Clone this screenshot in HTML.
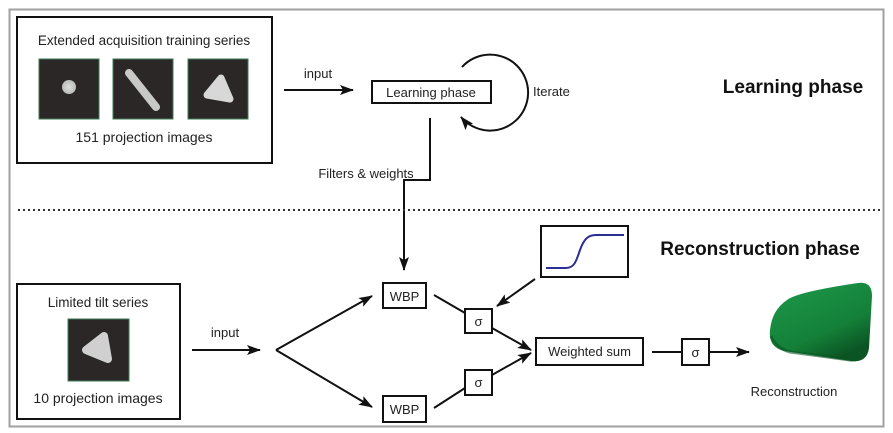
<!DOCTYPE html>
<html><head><meta charset="utf-8"><style>
html,body{margin:0;padding:0;background:#fff;}
svg{display:block;font-family:"Liberation Sans",Arial,sans-serif;}
</style></head><body>
<svg width="893" height="433" viewBox="0 0 893 433" xmlns="http://www.w3.org/2000/svg">
<defs>
<marker id="ah" markerWidth="14" markerHeight="10" refX="13" refY="5" orient="auto" markerUnits="userSpaceOnUse">
<path d="M0,0 L14,5 L0,10 L3,5 Z" fill="#111"/></marker>
<radialGradient id="dot" cx="50%" cy="50%" r="50%"><stop offset="0" stop-color="#ddd"/><stop offset="1" stop-color="#bbb"/></radialGradient>
<linearGradient id="grn" x1="0" y1="0" x2="0.6" y2="1"><stop offset="0" stop-color="#1e9a4a"/><stop offset="0.7" stop-color="#148039"/><stop offset="1" stop-color="#0b5524"/></linearGradient>
</defs>
<rect x="9.5" y="9.5" width="874" height="417" fill="#fff" stroke="#a0a0a0" stroke-width="2"/>
<rect x="17" y="17" width="255" height="146" fill="none" stroke="#111" stroke-width="2"/>
<text x="144" y="45" font-size="13.5" text-anchor="middle" fill="#222">Extended acquisition training series</text>
<rect x="39" y="59" width="60" height="60" fill="#2a2726" stroke="#3f7a55" stroke-width="1"/>
<circle cx="69" cy="87" r="7" fill="url(#dot)"/>
<rect x="113" y="59" width="60" height="60" fill="#2a2726" stroke="#3f7a55" stroke-width="1"/>
<line x1="129" y1="73" x2="156" y2="107" stroke="#c8c8c8" stroke-width="8" stroke-linecap="round"/>
<rect x="188" y="59" width="60" height="60" fill="#2a2726" stroke="#3f7a55" stroke-width="1"/>
<polygon points="221,78 230,99 207,95" fill="#d8d8d8" stroke="#d8d8d8" stroke-width="7" stroke-linejoin="round"/>
<text x="144" y="142" font-size="14" text-anchor="middle" fill="#222">151 projection images</text>
<text x="318" y="78" font-size="13" text-anchor="middle" fill="#222">input</text>
<line x1="284" y1="90" x2="353" y2="90" stroke="#111" stroke-width="2" marker-end="url(#ah)"/>
<rect x="372" y="81" width="119" height="22" fill="none" stroke="#111" stroke-width="2"/>
<text x="431" y="97" font-size="13" text-anchor="middle" fill="#222">Learning phase</text>
<path d="M462,67 A38,38 0 1 1 461,117" fill="none" stroke="#111" stroke-width="2" marker-end="url(#ah)"/>
<text x="533" y="96" font-size="13" fill="#222">Iterate</text>
<text x="793" y="93" font-size="19" font-weight="bold" text-anchor="middle" fill="#111">Learning phase</text>
<text x="366" y="178" font-size="13" text-anchor="middle" fill="#222">Filters &amp; weights</text>
<polyline points="430,118 430,180 404,180 404,270" fill="none" stroke="#111" stroke-width="2" marker-end="url(#ah)"/>
<line x1="18" y1="210" x2="880" y2="210" stroke="#333" stroke-width="2" stroke-dasharray="2,3"/>
<text x="760" y="255" font-size="19" font-weight="bold" text-anchor="middle" fill="#111">Reconstruction phase</text>
<rect x="17" y="284" width="163" height="135" fill="none" stroke="#111" stroke-width="2"/>
<text x="98" y="307" font-size="13.5" text-anchor="middle" fill="#222">Limited tilt series</text>
<rect x="68" y="319" width="61" height="62" fill="#2a2726" stroke="#3f7a55" stroke-width="1"/>
<polygon points="104,336 108,359 86,350" fill="#d0d0d0" stroke="#d0d0d0" stroke-width="8" stroke-linejoin="round"/>
<text x="98" y="403" font-size="14" text-anchor="middle" fill="#222">10 projection images</text>
<text x="225" y="337" font-size="13" text-anchor="middle" fill="#222">input</text>
<line x1="192" y1="350" x2="260" y2="350" stroke="#111" stroke-width="2" marker-end="url(#ah)"/>
<line x1="276" y1="350" x2="372" y2="296" stroke="#111" stroke-width="2" marker-end="url(#ah)"/>
<line x1="276" y1="350" x2="372" y2="407" stroke="#111" stroke-width="2" marker-end="url(#ah)"/>
<rect x="383" y="283" width="43" height="25" fill="#fff" stroke="#111" stroke-width="2"/>
<text x="404.5" y="301" font-size="13" text-anchor="middle" fill="#222">WBP</text>
<rect x="383" y="396" width="43" height="26" fill="#fff" stroke="#111" stroke-width="2"/>
<text x="404.5" y="414" font-size="13" text-anchor="middle" fill="#222">WBP</text>
<line x1="434" y1="295" x2="465" y2="313" stroke="#111" stroke-width="2"/>
<line x1="434" y1="408" x2="465" y2="388" stroke="#111" stroke-width="2"/>
<rect x="465" y="309" width="27" height="24" fill="#fff" stroke="#111" stroke-width="2"/>
<text x="478.5" y="326" font-size="13" text-anchor="middle" fill="#222">σ</text>
<rect x="465" y="370" width="27" height="25" fill="#fff" stroke="#111" stroke-width="2"/>
<text x="478.5" y="387" font-size="13" text-anchor="middle" fill="#222">σ</text>
<line x1="492" y1="328" x2="531" y2="350" stroke="#111" stroke-width="2" marker-end="url(#ah)"/>
<line x1="492" y1="375" x2="531" y2="353" stroke="#111" stroke-width="2" marker-end="url(#ah)"/>
<rect x="541" y="226" width="87" height="51" fill="#fff" stroke="#111" stroke-width="2"/>
<path d="M546,268 L566,268 C574,268 576,262 580,250 C584,239 588,235 596,235 L624,235" fill="none" stroke="#2b2f94" stroke-width="2"/>
<line x1="535" y1="279" x2="497" y2="306" stroke="#111" stroke-width="2" marker-end="url(#ah)"/>
<rect x="536" y="338" width="107" height="27" fill="#fff" stroke="#111" stroke-width="2"/>
<text x="589.5" y="356" font-size="13" text-anchor="middle" fill="#222">Weighted sum</text>
<line x1="652" y1="352" x2="682" y2="352" stroke="#111" stroke-width="2"/>
<rect x="682" y="339" width="27" height="26" fill="#fff" stroke="#111" stroke-width="2"/>
<text x="695.5" y="357" font-size="13" text-anchor="middle" fill="#222">σ</text>
<line x1="709" y1="352" x2="749" y2="352" stroke="#111" stroke-width="2" marker-end="url(#ah)"/>
<path d="M787,300 Q797,292 858,283 Q872,281 872,296 L869,348 Q867,363 851,361 L784,351 Q768,347 770,330 Q772,310 787,300 Z" fill="url(#grn)"/>
<path d="M771,336 Q776,348 790,352 L850,360 Q864,361 867,350" fill="none" stroke="#0b5524" stroke-width="3" opacity="0.6"/>
<text x="794" y="396" font-size="13" text-anchor="middle" fill="#222">Reconstruction</text>
</svg>
</body></html>
